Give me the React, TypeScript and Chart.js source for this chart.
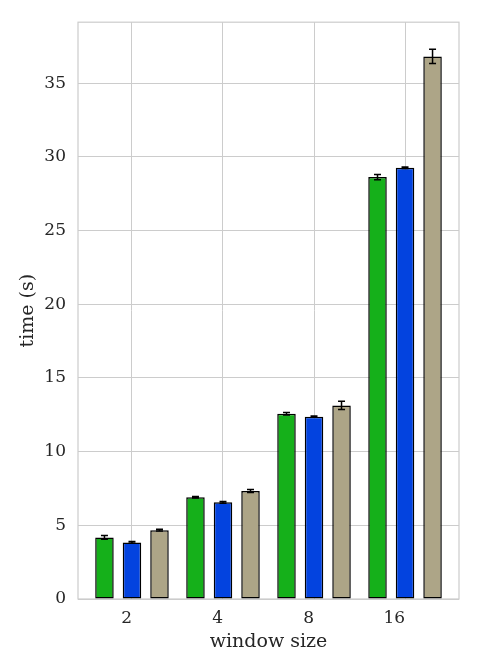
import React, { useEffect, useRef } from 'react';
import { Chart, registerables } from 'chart.js';
Chart.register(...registerables);

const categories = ['2', '4', '8', '16'];
const seriesA = [4.18, 6.9, 12.57, 28.62];
const seriesAErr = [0.12, 0.05, 0.09, 0.17];
const seriesB = [3.84, 6.56, 12.37, 29.25];
const seriesBErr = [0.06, 0.06, 0.04, 0.05];
const seriesC = [4.67, 7.33, 13.13, 36.81];
const seriesCErr = [0.06, 0.1, 0.28, 0.49];
const yTicks = [0, 5, 10, 15, 20, 25, 30, 35];
const yMax = 39.13;
const xPad = 0.593;

const FONT = 'DejaVu Serif';
const TEXT = '#262626';
const GRID = '#cccccc';

const errors = [seriesAErr, seriesBErr, seriesCErr];
const values = [seriesA, seriesB, seriesC];

const framePlugin = {
  id: 'frame',
  beforeDatasetsDraw(chart: any) {
    const { ctx, chartArea } = chart;
    ctx.save();
    ctx.strokeStyle = GRID;
    ctx.lineWidth = 1.2;
    ctx.strokeRect(chartArea.left, chartArea.top, chartArea.right - chartArea.left, chartArea.bottom - chartArea.top);
    ctx.restore();
  },
};

const errorPlugin = {
  id: 'errbars',
  afterDatasetsDraw(chart: any) {
    const { ctx } = chart;
    const yScale = chart.scales.y;
    ctx.save();
    ctx.strokeStyle = '#000000';
    ctx.lineWidth = 1.5;
    chart.data.datasets.forEach((_: any, di: number) => {
      const meta = chart.getDatasetMeta(di);
      meta.data.forEach((el: any, i: number) => {
        const v = values[di][i];
        const e = errors[di][i];
        const x = el.x;
        const y1 = yScale.getPixelForValue(v - e);
        const y2 = yScale.getPixelForValue(v + e);
        const cap = 3.5;
        ctx.beginPath();
        ctx.moveTo(x, y1);
        ctx.lineTo(x, y2);
        ctx.moveTo(x - cap, y1);
        ctx.lineTo(x + cap, y1);
        ctx.moveTo(x - cap, y2);
        ctx.lineTo(x + cap, y2);
        ctx.stroke();
      });
    });
    ctx.restore();
  },
};

export default function App() {
  const ref = useRef<HTMLCanvasElement | null>(null);
  useEffect(() => {
    if (!ref.current) return;
    const mk = (vals: number[], color: string) => ({
      data: vals.map((v, i) => ({ x: i, y: v })),
      backgroundColor: color,
      borderColor: '#000000',
      borderWidth: 1.5,
      borderSkipped: false,
      categoryPercentage: 0.907,
      barPercentage: 0.673,
    });
    const chart = new Chart(ref.current, {
      type: 'bar',
      data: {
        datasets: [mk(seriesA, '#15b01a'), mk(seriesB, '#0343df'), mk(seriesC, '#ada587')] as any,
      },
      options: {
        animation: false,
        responsive: false,
        devicePixelRatio: 1,
        layout: { padding: { left: 0, top: 21, right: 21, bottom: 0 } },
        plugins: { legend: { display: false }, tooltip: { enabled: false } },
        scales: {
          x: {
            type: 'linear',
            min: -xPad,
            max: categories.length - 1 + xPad,
            offset: false,
            afterBuildTicks: (s: any) => {
              s.ticks = categories.map((_, i) => ({ value: i }));
            },
            afterFit: (s: any) => {
              s.height = 73;
            },
            grid: { color: GRID, lineWidth: 1, drawTicks: false, offset: false },
            border: { display: false },
            ticks: {
              align: 'end',
              padding: 9,
              color: TEXT,
              font: { family: FONT, size: 17 },
              callback: (v: any) => categories[Math.round(Number(v))],
            },
            title: {
              display: true,
              text: 'window size',
              color: TEXT,
              font: { family: FONT, size: 19 },
              padding: { top: 0, bottom: 18.6 },
            },
          },
          y: {
            type: 'linear',
            min: 0,
            max: yMax,
            afterBuildTicks: (s: any) => {
              s.ticks = yTicks.map((v) => ({ value: v }));
            },
            afterFit: (s: any) => {
              s.width = 78;
            },
            grid: { color: GRID, lineWidth: 1, drawTicks: false },
            border: { display: false },
            ticks: {
              padding: 12,
              color: TEXT,
              font: { family: FONT, size: 17 },
            },
            title: {
              display: true,
              text: 'time (s)',
              color: TEXT,
              font: { family: FONT, size: 19 },
              padding: { top: 16.6, bottom: 0 },
            },
          },
        },
      } as any,
      plugins: [framePlugin, errorPlugin],
    });
    return () => chart.destroy();
  }, []);
  return (
    <div style={{ position: 'fixed', left: 0, top: 0, width: 480, height: 672, background: '#ffffff' }}>
      <canvas ref={ref} width={480} height={672} />
    </div>
  );
}
